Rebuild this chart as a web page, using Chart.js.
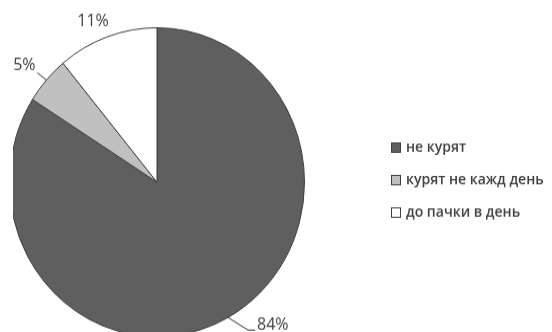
<!DOCTYPE html>
<html>
<head>
<meta charset="utf-8">
<script src="https://cdn.jsdelivr.net/npm/chart.js@4/dist/chart.umd.min.js"></script>
<style>
  html, body { margin: 0; padding: 0; background: #fff; }
  #wrap { position: absolute; left: 13px; top: 0; width: 539px; height: 332px; overflow: hidden; }
  #smoking { position: absolute; left: -23px; top: 0; transform: scaleY(1.047); transform-origin: 0 0; }
</style>
</head>
<body>
<div id="wrap"><canvas id="smoking" width="562" height="330"></canvas></div>
<script>
// smokers survey, share of answers in %
const categories = ['не курят', 'курят не кажд день', 'до пачки в день'];
const shares = [84, 5, 11];
const sliceColors = ['#5f5f5f', '#c0c0c0', '#ffffff'];

const textColor = '#404040';
const edgeColor = '#404040';

// percent labels next to each slice, offsets from the slice edge
const pctLabels = {
    id: 'pctLabels',
    afterDatasetsDraw(chart) {
        const ctx = chart.ctx;
        const meta = chart.getDatasetMeta(0);
        const total = shares.reduce((a, b) => a + b, 0);
        const place = [
            { dx: 29, dy: 7, align: 'left', leader: [[20, 12], [27, 12]] },
            { dx: -22, dy: -14, align: 'center', leader: [[-9, -7]] },
            { dx: -14, dy: -15, align: 'center', leader: null }
        ];
        ctx.save();
        ctx.font = '16px "Open Sans"';
        ctx.fillStyle = textColor;
        ctx.strokeStyle = '#303030';
        ctx.lineWidth = 1;
        ctx.textBaseline = 'middle';
        meta.data.forEach((arc, i) => {
            const p = arc.getProps(['x', 'y', 'startAngle', 'endAngle', 'outerRadius'], true);
            const mid = (p.startAngle + p.endAngle) / 2;
            const ex = p.x + Math.cos(mid) * p.outerRadius;
            const ey = p.y + Math.sin(mid) * p.outerRadius;
            const s = place[i];
            if (s.leader) {
                ctx.beginPath();
                ctx.moveTo(ex, ey);
                s.leader.forEach(pt => ctx.lineTo(ex + pt[0], ey + pt[1]));
                ctx.stroke();
            }
            ctx.textAlign = s.align;
            const pct = Math.round(shares[i] / total * 100) + '%';
            ctx.fillText(pct, ex + s.dx, ey + s.dy);
        });
        ctx.restore();
    }
};

// legend on the right: small boxes with labels
const sideLegend = {
    id: 'sideLegend',
    afterDraw(chart) {
        const ctx = chart.ctx;
        const rows = [141, 172, 203];
        ctx.save();
        ctx.font = '600 14px "Open Sans"';
        ctx.textBaseline = 'middle';
        ctx.textAlign = 'left';
        categories.forEach((name, i) => {
            ctx.fillStyle = sliceColors[i];
            ctx.fillRect(401.5, rows[i] - 4.5, 9, 9);
            ctx.strokeStyle = edgeColor;
            ctx.lineWidth = 1;
            ctx.strokeRect(401.5, rows[i] - 4.5, 9, 9);
            ctx.fillStyle = textColor;
            ctx.fillText(name, 416, rows[i]);
        });
        ctx.restore();
    }
};

var ctx = document.getElementById('smoking').getContext('2d');
var smokingChart = new Chart(ctx, {
    type: 'pie',
    data: {
        labels: categories,
        datasets: [{
            data: shares,
            backgroundColor: sliceColors,
            borderColor: edgeColor,
            borderWidth: 1,
            borderAlign: 'center'
        }]
    },
    options: {
        responsive: false,
        animation: false,
        layout: {
            padding: { left: 19, right: 247, top: 26, bottom: 8 }
        },
        plugins: {
            legend: { display: false },
            tooltip: { enabled: false }
        }
    },
    plugins: [pctLabels, sideLegend]
});
</script>
</body>
</html>
